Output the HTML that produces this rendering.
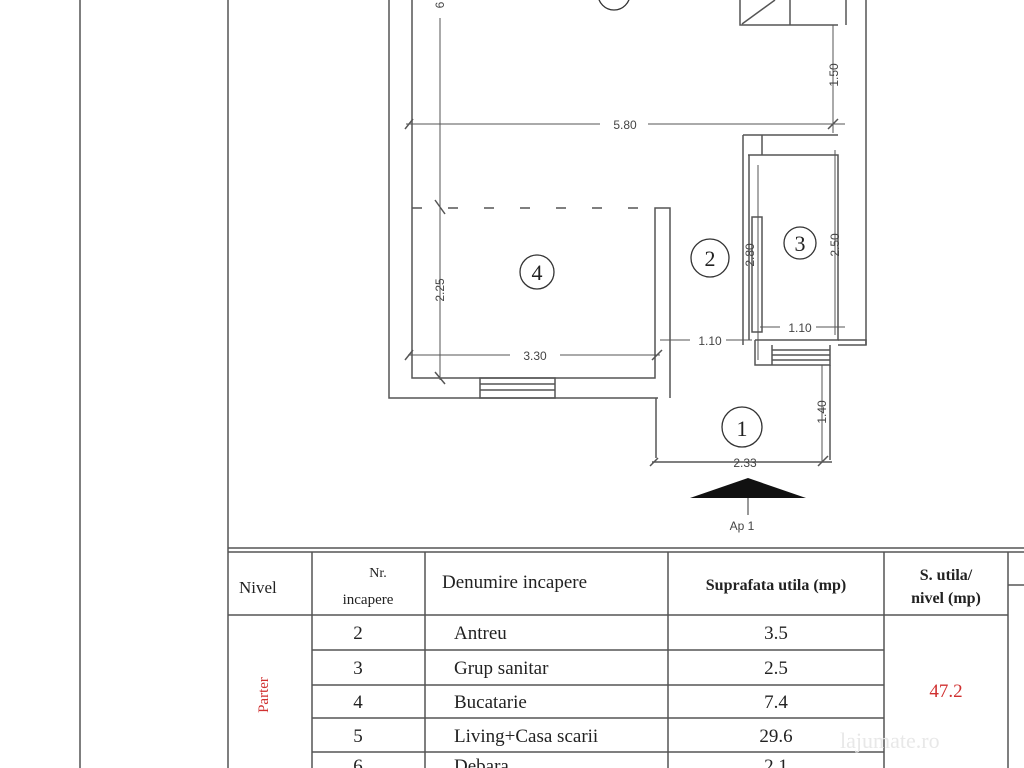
<!DOCTYPE html>
<html><head><meta charset="utf-8"><style>
html,body{margin:0;padding:0;background:#fff;}
svg{display:block;}
text{font-family:"Liberation Serif",serif;fill:#222;}
.d{font-family:"Liberation Sans",sans-serif;font-size:12px;fill:#444;}
</style></head><body>
<svg width="1024" height="768" viewBox="0 0 1024 768" xmlns="http://www.w3.org/2000/svg">
<g stroke="#555" stroke-width="1.5" fill="none">
<line x1="80" y1="0" x2="80" y2="768"/>
<line x1="228" y1="0" x2="228" y2="548"/>
<!-- outer walls -->
<polyline points="389,0 389,398 658,398"/>
<polyline points="412,0 412,378 655,378 655,208 670,208 670,398"/>
<line x1="412" y1="208" x2="655" y2="208" stroke-dasharray="10,26"/>
<!-- window bottom -->
<rect x="480" y="378" width="75" height="20"/>
<line x1="480" y1="384" x2="555" y2="384"/><line x1="480" y1="390" x2="555" y2="390"/>
<!-- right walls -->
<line x1="866" y1="0" x2="866" y2="345"/>
<line x1="846" y1="0" x2="846" y2="25"/>
<polyline points="743,135 743,345"/>
<polyline points="743,135 838,135"/>
<line x1="762" y1="135" x2="762" y2="155"/>
<polyline points="748,155 838,155 838,340 755,340"/>
<line x1="749" y1="155" x2="749" y2="340"/>
<rect x="752" y="217" width="10" height="115"/>
<polyline points="838,340 866,340 866,345 838,345"/>
<polyline points="755,340 755,365 830,365 830,345"/>
<line x1="772" y1="345" x2="772" y2="365"/>
<line x1="772" y1="350" x2="830" y2="350"/><line x1="772" y1="355" x2="830" y2="355"/><line x1="772" y1="360" x2="830" y2="360"/>
<!-- stair -->
<polyline points="740,0 740,25 838,25"/>
<line x1="790" y1="0" x2="790" y2="25"/>
<line x1="742" y1="24" x2="775" y2="0"/>
<!-- entrance -->
<line x1="656" y1="398" x2="656" y2="458"/>
<line x1="830" y1="365" x2="830" y2="460"/>
<line x1="652" y1="462" x2="832" y2="462"/>
</g>
<g stroke="#555" stroke-width="1" fill="none">
<!-- dimension lines -->
<line x1="440" y1="18" x2="440" y2="380"/>
<line x1="406" y1="124" x2="845" y2="124"/>
<line x1="833" y1="25" x2="833" y2="133"/>
<line x1="408" y1="355" x2="660" y2="355"/>
<line x1="660" y1="340" x2="752" y2="340"/>
<line x1="760" y1="327" x2="845" y2="327"/>
<line x1="822" y1="365" x2="822" y2="462"/>
<line x1="758" y1="165" x2="758" y2="360"/>
<line x1="835" y1="150" x2="835" y2="335"/>
<g stroke-width="1.5">
<line x1="405" y1="129" x2="413" y2="119"/><line x1="828" y1="129" x2="838" y2="119"/>
<line x1="435" y1="200" x2="445" y2="214"/><line x1="435" y1="372" x2="445" y2="384"/>
<line x1="405" y1="360" x2="413" y2="350"/><line x1="652" y1="360" x2="662" y2="350"/>
<line x1="818" y1="466" x2="828" y2="456"/><line x1="650" y1="466" x2="658" y2="458"/>
</g>
</g>
<g fill="none" stroke="#333" stroke-width="1.3">
<circle cx="537" cy="272" r="17"/>
<circle cx="710" cy="258" r="19"/>
<circle cx="800" cy="243" r="16"/>
<circle cx="742" cy="427" r="20"/>
<circle cx="614" cy="-6" r="16"/>
</g>
<g font-size="22" text-anchor="middle">
<text x="537" y="280">4</text><text x="710" y="266">2</text>
<text x="800" y="251">3</text><text x="742" y="436">1</text>
</g>
<g class="d" text-anchor="middle">
<rect x="600" y="118" width="48" height="12" fill="#fff"/>
<text x="625" y="129" class="d">5.80</text>
<rect x="510" y="349" width="50" height="12" fill="#fff"/>
<text x="535" y="360" class="d">3.30</text>
<rect x="690" y="334" width="36" height="12" fill="#fff"/>
<text x="710" y="345" class="d">1.10</text>
<rect x="780" y="321" width="36" height="12" fill="#fff"/>
<text x="800" y="332" class="d">1.10</text>
<text x="745" y="467" class="d">2.33</text>
<text class="d" transform="translate(444,290) rotate(-90)">2.25</text>
<text class="d" transform="translate(444,5) rotate(-90)">6</text>
<text class="d" transform="translate(838,75) rotate(-90)">1.50</text>
<text class="d" transform="translate(754,255) rotate(-90)">2.80</text>
<text class="d" transform="translate(839,245) rotate(-90)">2.50</text>
<text class="d" transform="translate(826,412) rotate(-90)">1.40</text>
<text x="742" y="530" class="d" font-size="10">Ap 1</text>
</g>
<polygon points="690,498 806,498 748,478" fill="#111"/>
<line x1="748" y1="498" x2="748" y2="515" stroke="#333"/>
<!-- table -->
<g stroke="#555" stroke-width="1.5" fill="none">
<line x1="228" y1="548" x2="1024" y2="548"/>
<line x1="228" y1="552" x2="1024" y2="552"/>
<line x1="228" y1="548" x2="228" y2="768"/>
<line x1="312" y1="552" x2="312" y2="768"/>
<line x1="425" y1="552" x2="425" y2="768"/>
<line x1="668" y1="552" x2="668" y2="768"/>
<line x1="884" y1="552" x2="884" y2="768"/>
<line x1="1008" y1="552" x2="1008" y2="768"/>
<line x1="228" y1="615" x2="1008" y2="615"/>
<line x1="312" y1="650" x2="884" y2="650"/>
<line x1="312" y1="685" x2="884" y2="685"/>
<line x1="312" y1="718" x2="884" y2="718"/>
<line x1="312" y1="752" x2="884" y2="752"/>
<line x1="1008" y1="585" x2="1024" y2="585"/>
</g>
<g font-size="17">
<text x="239" y="593">Nivel</text>
<text x="378" y="577" text-anchor="middle" font-size="14">Nr.</text>
<text x="368" y="604" text-anchor="middle" font-size="15">incapere</text>
<text x="442" y="588" font-size="19">Denumire incapere</text>
<text x="776" y="590" text-anchor="middle" font-size="16" font-weight="bold">Suprafata utila (mp)</text>
<text x="946" y="580" text-anchor="middle" font-size="16" font-weight="bold">S. utila/</text>
<text x="946" y="603" text-anchor="middle" font-size="16" font-weight="bold">nivel (mp)</text>
<g font-size="19">
<text x="358" y="639" text-anchor="middle">2</text><text x="454" y="639">Antreu</text><text x="776" y="639" text-anchor="middle">3.5</text>
<text x="358" y="674" text-anchor="middle">3</text><text x="454" y="674">Grup sanitar</text><text x="776" y="674" text-anchor="middle">2.5</text>
<text x="358" y="708" text-anchor="middle">4</text><text x="454" y="708">Bucatarie</text><text x="776" y="708" text-anchor="middle">7.4</text>
<text x="358" y="742" text-anchor="middle">5</text><text x="454" y="742">Living+Casa scarii</text><text x="776" y="742" text-anchor="middle">29.6</text>
<text x="358" y="772" text-anchor="middle">6</text><text x="454" y="772">Debara</text><text x="776" y="772" text-anchor="middle">2.1</text>
</g>
<text x="946" y="697" text-anchor="middle" font-size="19" style="fill:#d03030">47.2</text>
<text transform="translate(268,695) rotate(-90)" text-anchor="middle" font-size="15" style="fill:#d03030">Parter</text>
</g>
<text x="840" y="748" font-family="Liberation Sans" font-size="22" style="fill:#e8e8e8">lajumate.ro</text>
</svg>
</body></html>
